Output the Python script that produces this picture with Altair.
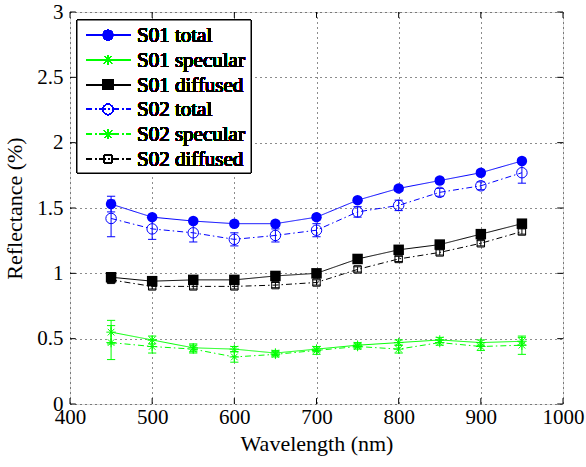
import altair as alt
import pandas as pd

wavelength = [450, 500, 550, 600, 650, 700, 750, 800, 850, 900, 950]

s01_total = [1.53, 1.43, 1.40, 1.38, 1.38, 1.43, 1.56, 1.65, 1.71, 1.77, 1.86]
s01_total_err = [0.06, 0.02, 0.02, 0.02, 0.02, 0.02, 0.02, 0.02, 0.02, 0.02, 0.02]
s01_specular = [0.55, 0.49, 0.43, 0.42, 0.39, 0.42, 0.45, 0.47, 0.49, 0.47, 0.48]
s01_specular_err = [0.09, 0.03, 0.03, 0.02, 0.02, 0.02, 0.02, 0.02, 0.02, 0.02, 0.03]
s01_diffused = [0.97, 0.94, 0.95, 0.95, 0.98, 1.00, 1.11, 1.18, 1.22, 1.30, 1.38]
s01_diffused_err = [0.02, 0.02, 0.02, 0.02, 0.02, 0.02, 0.02, 0.02, 0.02, 0.02, 0.02]
s02_total = [1.42, 1.34, 1.31, 1.26, 1.29, 1.33, 1.47, 1.52, 1.62, 1.67, 1.77]
s02_total_err = [0.14, 0.08, 0.07, 0.05, 0.05, 0.05, 0.04, 0.04, 0.03, 0.03, 0.08]
s02_specular = [0.47, 0.44, 0.42, 0.36, 0.38, 0.41, 0.44, 0.42, 0.47, 0.44, 0.45]
s02_specular_err = [0.13, 0.05, 0.03, 0.04, 0.02, 0.03, 0.02, 0.03, 0.02, 0.03, 0.07]
s02_diffused = [0.95, 0.90, 0.90, 0.90, 0.91, 0.93, 1.03, 1.11, 1.16, 1.23, 1.32]
s02_diffused_err = [0.02, 0.02, 0.02, 0.02, 0.02, 0.02, 0.02, 0.02, 0.02, 0.02, 0.02]

x_ticks = [400, 500, 600, 700, 800, 900, 1000]
y_ticks = [0, 0.5, 1, 1.5, 2, 2.5, 3]

BLUE = "#0000ff"
GREEN = "#00ff00"
BLACK = "#000000"
SOLID = [1, 0]
DASHDOT = [6, 3, 1.5, 3]
ASTER = "M-1,0L1,0M0,-1L0,1M-0.7,-0.7L0.7,0.7M-0.7,0.7L0.7,-0.7"

series = [
    ("S01 total", s01_total, s01_total_err, BLUE, SOLID, "circle", True, 110),
    ("S01 specular", s01_specular, s01_specular_err, GREEN, SOLID, ASTER, False, 90),
    ("S01 diffused", s01_diffused, s01_diffused_err, BLACK, SOLID, "square", True, 110),
    ("S02 total", s02_total, s02_total_err, BLUE, DASHDOT, "circle", False, 110),
    ("S02 specular", s02_specular, s02_specular_err, GREEN, DASHDOT, ASTER, False, 90),
    ("S02 diffused", s02_diffused, s02_diffused_err, BLACK, DASHDOT, "square", False, 55),
]

rows = []
for name, vals, errs, *_ in series:
    for w, v, e in zip(wavelength, vals, errs):
        rows.append({"series": name, "wl": w, "val": v, "lo": v - e, "hi": v + e,
                     "cl": w - 5, "cr": w + 5})
df = pd.DataFrame(rows)

xs = alt.Scale(domain=[400, 1000], nice=False)
ys = alt.Scale(domain=[0, 3], nice=False)
FONT = "'Liberation Serif', 'Times New Roman', serif"
LBL = 21
TTL = 22

base = alt.Chart(df)
layers = []

axis_common = dict(grid=True, gridDash=[1, 4], gridColor="#000", gridOpacity=0.9,
                   domain=False, ticks=False, labelFont=FONT, labelFontSize=LBL,
                   labelColor="#000", titleFont=FONT, titleFontSize=TTL,
                   titleFontWeight="normal", titleColor="#000", labelFlush=False)

axis_layer = base.mark_point(opacity=0).encode(
    x=alt.X("wl:Q", scale=xs, title="Wavelength (nm)",
            axis=alt.Axis(values=x_ticks, labelPadding=2, titlePadding=6, format="d",
                          **axis_common)),
    y=alt.Y("val:Q", scale=ys, title="Reflectance (%)",
            axis=alt.Axis(values=y_ticks, labelPadding=7, titlePadding=10, format="~g",
                          **axis_common)),
)
layers.append(axis_layer)

# inward tick marks
tx = pd.DataFrame({"t": x_ticks})
ty = pd.DataFrame({"t": y_ticks})
tick_style = dict(color="#000", strokeWidth=1)
layers.append(alt.Chart(tx).mark_rule(**tick_style).encode(
    x=alt.X("t:Q", scale=xs), y=alt.datum(0), y2=alt.datum(0.045)))
layers.append(alt.Chart(tx).mark_rule(**tick_style).encode(
    x=alt.X("t:Q", scale=xs), y=alt.datum(3), y2=alt.datum(2.955)))
layers.append(alt.Chart(ty).mark_rule(**tick_style).encode(
    y=alt.Y("t:Q", scale=ys), x=alt.datum(400), x2=alt.datum(407)))
layers.append(alt.Chart(ty).mark_rule(**tick_style).encode(
    y=alt.Y("t:Q", scale=ys), x=alt.datum(1000), x2=alt.datum(993)))

for name, vals, errs, color, dash, shape, filled, size in series:
    b = base.transform_filter(alt.datum.series == name)
    layers.append(b.mark_line(color=color, strokeDash=dash, strokeWidth=1).encode(
        x=alt.X("wl:Q", scale=xs), y=alt.Y("val:Q", scale=ys)))
    layers.append(b.mark_rule(color=color, strokeWidth=1).encode(
        x=alt.X("wl:Q", scale=xs), y=alt.Y("lo:Q", scale=ys), y2="hi:Q"))
    layers.append(b.mark_rule(color=color, strokeWidth=1).encode(
        x=alt.X("cl:Q", scale=xs), x2="cr:Q", y=alt.Y("lo:Q", scale=ys)))
    layers.append(b.mark_rule(color=color, strokeWidth=1).encode(
        x=alt.X("cl:Q", scale=xs), x2="cr:Q", y=alt.Y("hi:Q", scale=ys)))
    layers.append(b.mark_point(shape=shape, filled=filled, color=color, size=size,
                               strokeWidth=1, opacity=1).encode(
        x=alt.X("wl:Q", scale=xs), y=alt.Y("val:Q", scale=ys)))

# legend box (pixel positions within the plot area)
layers.append(alt.Chart(df).mark_rect(fill="white", stroke="black", strokeWidth=1).encode(
    x=alt.value(7), x2=alt.value(181), y=alt.value(8), y2=alt.value(161)))
for i, (name, vals, errs, color, dash, shape, filled, size) in enumerate(series):
    yy = 23 + i * 24.8
    layers.append(alt.Chart(df).mark_rule(color=color, strokeDash=dash, strokeWidth=1).encode(
        x=alt.value(16), x2=alt.value(61), y=alt.value(yy)))
    layers.append(alt.Chart(df).mark_point(shape=shape, filled=filled, color=color, size=size,
                                           strokeWidth=1, opacity=1).encode(
        x=alt.value(38), y=alt.value(yy)))
    layers.append(alt.Chart(df).mark_text(text=name, align="left", baseline="middle",
                                          font=FONT, fontSize=21, fontWeight="normal",
                                          color="#000").encode(
        x=alt.value(67), y=alt.value(yy + 1)))

chart = alt.layer(*layers).properties(
    width=493, height=392,
    autosize=alt.AutoSizeParams(type="none"),
    padding={"left": 70, "top": 12, "right": 23, "bottom": 63},
).configure_view(stroke="black", strokeWidth=2).configure(background="white")

chart.save("out.html", embed_options={"renderer": "svg", "actions": False})
